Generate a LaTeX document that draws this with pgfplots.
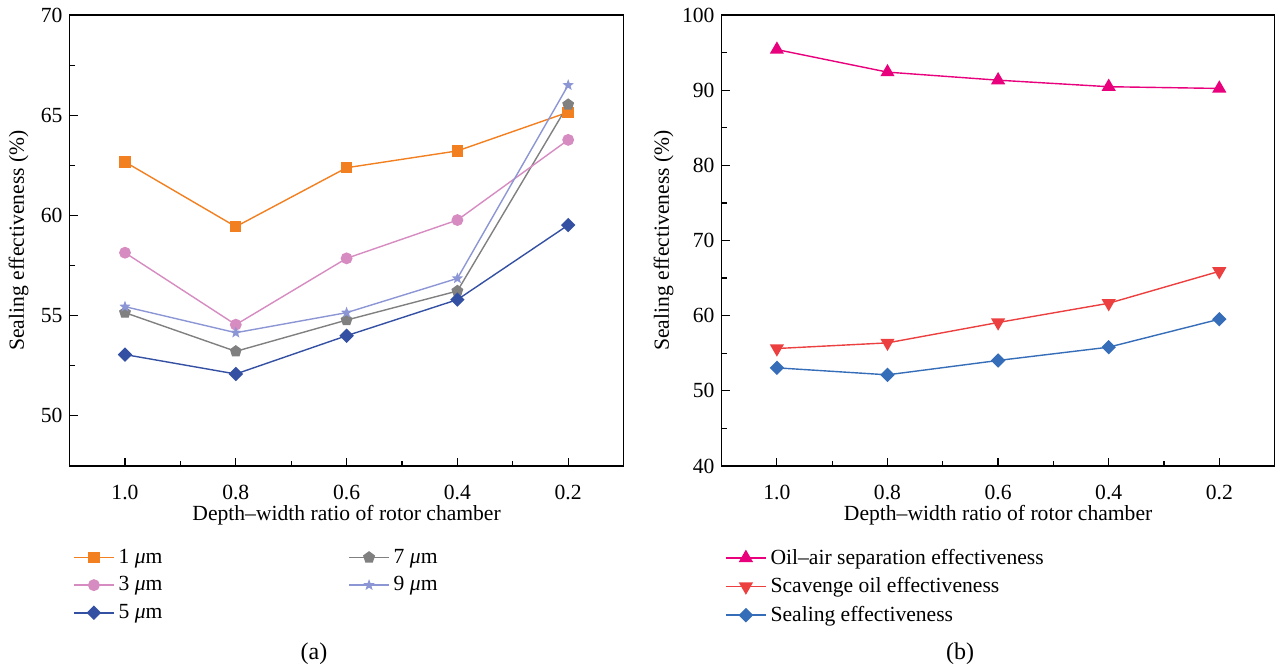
\documentclass[border=0pt]{standalone}
\usepackage{fontspec}
\setmainfont{Liberation Serif}
\usepackage{pgfplots}
\pgfplotsset{compat=1.18}
\definecolor{corange}{RGB}{243,128,32}
\definecolor{cpink}{RGB}{214,139,193}
\definecolor{cdblue}{RGB}{52,80,163}
\definecolor{cgray}{RGB}{128,128,128}
\definecolor{cstar}{RGB}{140,150,212}
\definecolor{cmag}{RGB}{232,0,125}
\definecolor{cred}{RGB}{236,64,64}
\definecolor{cblue}{RGB}{53,109,184}
\pgfdeclareplotmark{fstar}{%
  \pgfpathmoveto{\pgfpointpolar{90}{\pgfplotmarksize}}%
  \pgfpathlineto{\pgfpointpolar{126}{0.42\pgfplotmarksize}}%
  \pgfpathlineto{\pgfpointpolar{162}{\pgfplotmarksize}}%
  \pgfpathlineto{\pgfpointpolar{198}{0.42\pgfplotmarksize}}%
  \pgfpathlineto{\pgfpointpolar{234}{\pgfplotmarksize}}%
  \pgfpathlineto{\pgfpointpolar{270}{0.42\pgfplotmarksize}}%
  \pgfpathlineto{\pgfpointpolar{306}{\pgfplotmarksize}}%
  \pgfpathlineto{\pgfpointpolar{342}{0.42\pgfplotmarksize}}%
  \pgfpathlineto{\pgfpointpolar{18}{\pgfplotmarksize}}%
  \pgfpathlineto{\pgfpointpolar{54}{0.42\pgfplotmarksize}}%
  \pgfpathclose\pgfusepathqfill}
\pgfplotsset{
  myax/.style={
    scale only axis, anchor=south west,
    height=225.5pt,
    x dir=reverse, xmin=0.1, xmax=1.1,
    xtick={0.2,0.4,0.6,0.8,1.0},
    xticklabels={0.2,0.4,0.6,0.8,1.0},
    minor xtick={0.3,0.5,0.7,0.9},
    tick align=inside, xtick pos=bottom, ytick pos=left,
    major tick length=4pt, minor tick length=2.5pt,
    tick style={black, line width=0.6pt},
    axis line style={black, line width=0.7pt},
    font=\fontsize{10.8}{13}\selectfont,
    /pgf/number format/assume math mode=true,
    xticklabel style={yshift=-6pt},
    xlabel={Depth–width ratio of rotor chamber},
    ylabel={Sealing effectiveness (\%)},
    every axis x label/.style={at={(axis description cs:0.5,-0.11)}, anchor=center},
    legend cell align=left,
    legend style={draw=none, fill=none, anchor=north west,
      font=\fontsize{10.8}{13}\selectfont,
      /tikz/every node/.append style={inner sep=2pt},
      row sep=1.2pt},
    legend image code/.code={\draw[line width=0.75pt, mark repeat=2,mark phase=2] plot coordinates {(0cm,0cm) (0.35cm,0cm) (0.7cm,0cm)};},
    every axis plot/.append style={line width=0.7pt},
  }
}
\begin{document}
\begin{tikzpicture}
\path[use as bounding box] (0,0) rectangle (640.5pt,335.5pt);
\begin{axis}[myax, at={(34.8pt,102.5pt)}, width=277pt,
  ymin=47.5, ymax=70, ytick={50,55,60,65,70},
  minor ytick={47.5,52.5,57.5,62.5,67.5},
  every axis y label/.style={at={(axis description cs:-0.092,0.5)}, rotate=90, anchor=center},
  legend columns=2,
  legend style={at={(axis description cs:-0.005,-0.165)}, /tikz/column 2/.style={column sep=91pt}}]
\addplot[corange, mark=square*, mark size=2.5pt] coordinates {(1.0,62.67) (0.8,59.44) (0.6,62.38) (0.4,63.22) (0.2,65.15)};
\addlegendentry{1 {\itshape μ}m}
\addplot[cgray, mark=pentagon*, mark size=2.7pt] coordinates {(1.0,55.15) (0.8,53.22) (0.6,54.78) (0.4,56.23) (0.2,65.53)};
\addlegendentry{7 {\itshape μ}m}
\addplot[cpink, mark=*, mark size=2.6pt] coordinates {(1.0,58.14) (0.8,54.55) (0.6,57.86) (0.4,59.77) (0.2,63.77)};
\addlegendentry{3 {\itshape μ}m}
\addplot[cstar, mark=fstar, mark size=3pt] coordinates {(1.0,55.45) (0.8,54.15) (0.6,55.15) (0.4,56.86) (0.2,66.50)};
\addlegendentry{9 {\itshape μ}m}
\addplot[cdblue, mark=square*, mark size=2.2pt, mark options={rotate=45}] coordinates {(1.0,53.06) (0.8,52.09) (0.6,54.00) (0.4,55.80) (0.2,59.52)};
\addlegendentry{5 {\itshape μ}m}
\end{axis}
\begin{axis}[myax, at={(360.8pt,102.5pt)}, width=276.5pt,
  ymin=40, ymax=100, ytick={40,50,...,100},
  minor ytick={45,55,...,95},
  every axis y label/.style={at={(axis description cs:-0.105,0.5)}, rotate=90, anchor=center},
  legend style={at={(axis description cs:-0.005,-0.165)}}]
\addplot[cmag, mark=triangle*, mark size=3.4pt] coordinates {(1.0,95.4) (0.8,92.4) (0.6,91.33) (0.4,90.46) (0.2,90.23)};
\addlegendentry{Oil–air separation effectiveness}
\addplot[cred, mark=triangle*, mark size=3.4pt, mark options={rotate=180}] coordinates {(1.0,55.63) (0.8,56.38) (0.6,59.09) (0.4,61.65) (0.2,65.90)};
\addlegendentry{Scavenge oil effectiveness}
\addplot[cblue, mark=square*, mark size=2.2pt, mark options={rotate=45}] coordinates {(1.0,53.06) (0.8,52.13) (0.6,54.04) (0.4,55.81) (0.2,59.53)};
\addlegendentry{Sealing effectiveness}
\end{axis}
\node[font=\fontsize{12}{14}\selectfont] at (157pt,8.5pt) {(a)};
\node[font=\fontsize{12}{14}\selectfont] at (480pt,8.5pt) {(b)};
\end{tikzpicture}
\end{document}
